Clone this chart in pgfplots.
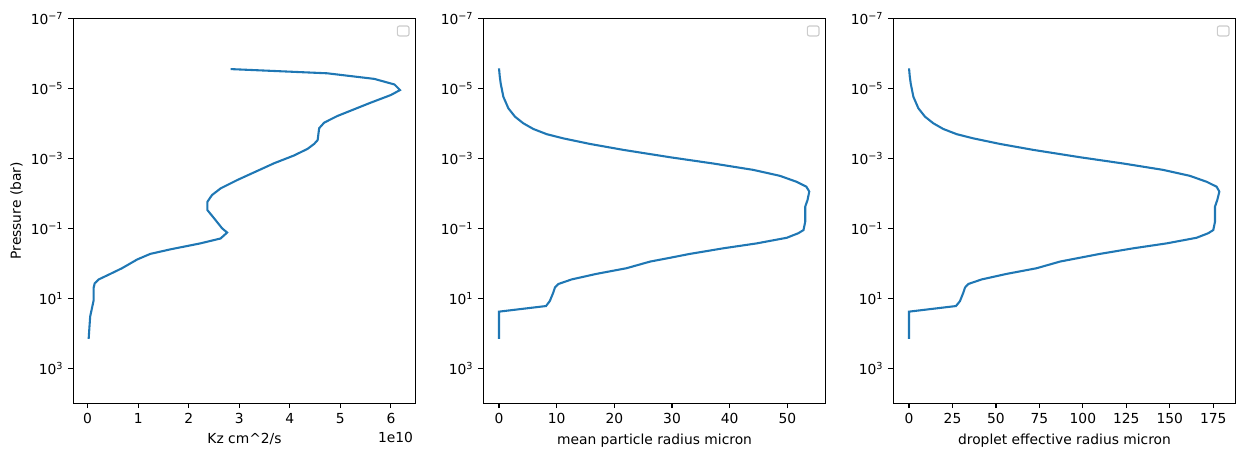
\documentclass[border=0pt]{standalone}
\usepackage{pgfplots}
\pgfplotsset{compat=1.18}
\usepackage{fontspec}
\setmainfont{DejaVu Sans}
\definecolor{mplblue}{HTML}{1F77B4}
\pgfplotsset{
  every axis/.append style={
    scale only axis, width=246.5bp, height=277.2bp,
    y dir=reverse,
    yminorticks=false,
    tick align=outside, major tick length=3.5bp,
    every tick/.style={black, line width=0.8bp},
    axis line style={line width=0.8bp},
    xtick pos=bottom, ytick pos=left,
    tick label style={font=\fontsize{10}{12}\selectfont, inner sep=0pt},
    label style={font=\fontsize{10}{12}\selectfont, inner sep=0pt},
    /pgf/number format/assume math mode=true,
    scaled x ticks=false,
    xticklabel style={yshift=-3.5bp},
    yticklabel style={xshift=-3.5bp},
    xlabel style={at={(axis description cs:0.5,0)}, anchor=north, yshift=-21.6bp},
    clip=false,
  },
}
\newcommand{\emptylegend}{%
  \draw[rounded corners=1.5bp, black!20, line width=0.8bp, fill=white]
    ([xshift=-13.2bp,yshift=-12.7bp]rel axis cs:1,1) rectangle ([xshift=-4.8bp,yshift=-5.5bp]rel axis cs:1,1);}
\begin{document}
\begin{tikzpicture}
\path[use as bounding box] (-52.8bp,-37.9bp) rectangle (843.6bp,290.4bp);
% Panel 1
\begin{axis}[ymode=log, ymin=1e-7, ymax=1e4,
  ytick={1e-7,1e-5,1e-3,1e-1,1e1,1e3},
  yticklabels={10\textsuperscript{−7},10\textsuperscript{−5},10\textsuperscript{−3},10\textsuperscript{−1},10\textsuperscript{1},10\textsuperscript{3}},
  at={(0bp,0bp)}, anchor=south west,
  xmin=-0.283, xmax=6.49, xtick={0,1,2,3,4,5,6},
  xlabel={Kz cm\textasciicircum 2/s}, ylabel={Pressure (bar)},
  ylabel style={at={(axis description cs:-0.1469,0.5)}, anchor=south}]
\addplot[mplblue, line width=1.5bp, no markers] coordinates {
(2.83,2.82e-6) (4.74,3.72e-6) (5.67,5.37e-6) (6.07,7.76e-6) (6.18,1.12e-5)
(6.00,1.55e-5) (5.60,2.57e-5) (4.94,6.17e-5) (4.68,9.55e-5) (4.58,1.38e-4)
(4.55,3.02e-4) (4.48,3.89e-4) (4.35,5.37e-4) (4.08,8.32e-4) (3.69,1.38e-3)
(2.96,4.17e-3) (2.63,7.24e-3) (2.46,1.12e-2) (2.37,1.74e-2) (2.37,3.02e-2)
(2.50,5.13e-2) (2.66,0.1) (2.76,0.132) (2.63,0.195) (2.23,0.269)
(1.64,0.398) (1.24,0.537) (0.98,0.776) (0.68,1.38) (0.45,2.0)
(0.22,2.88) (0.14,3.72) (0.12,4.90) (0.12,11.2) (0.05,33.1) (0.02,144.5)
};
\emptylegend
\node[anchor=north east, inner sep=0pt, font=\fontsize{10}{12}\selectfont] at ([xshift=-1.7bp,yshift=-20.7bp]rel axis cs:1,0) {1e10};
\end{axis}
% Panel 2
\begin{axis}[ymode=log, ymin=1e-7, ymax=1e4,
  ytick={1e-7,1e-5,1e-3,1e-1,1e1,1e3},
  yticklabels={10\textsuperscript{−7},10\textsuperscript{−5},10\textsuperscript{−3},10\textsuperscript{−1},10\textsuperscript{1},10\textsuperscript{3}},
  at={(295.2bp,0bp)}, anchor=south west,
  xmin=-2.72, xmax=56.65, xtick={0,10,20,30,40,50},
  xlabel={mean particle radius micron}]
\addplot[mplblue, line width=1.5bp, no markers] coordinates {
(0,2.69e-6) (0.12,4.47e-6) (0.29,7.24e-6) (0.75,1.74e-5) (1.62,3.72e-5)
(2.77,6.46e-5) (4.22,1.0e-4) (5.95,1.45e-4) (8.27,2.04e-4) (11.15,2.69e-4)
(15.8,3.89e-4) (21.6,5.75e-4) (29.7,9.33e-4) (37.2,1.41e-3) (44.1,2.14e-3)
(48.7,3.16e-3) (51.6,4.68e-3)
(53.3,6.46e-3) (53.8,8.91e-3) (53.5,1.55e-2) (53.1,2.40e-2) (53.1,6.46e-2)
(52.8,0.112) (51.9,0.138) (49.9,0.186) (44.7,0.269) (38.9,0.372)
(33.1,0.537) (29.7,0.692) (26.2,0.891) (22.1,1.38) (16.9,2.0)
(12.6,2.88) (10.3,3.89) (9.7,4.90) (9.4,6.92) (8.8,12.0) (8.15,16.6)
(0,24.0) (0,144.5)
};
\emptylegend
\end{axis}
% Panel 3
\begin{axis}[ymode=log, ymin=1e-7, ymax=1e4,
  ytick={1e-7,1e-5,1e-3,1e-1,1e1,1e3},
  yticklabels={10\textsuperscript{−7},10\textsuperscript{−5},10\textsuperscript{−3},10\textsuperscript{−1},10\textsuperscript{1},10\textsuperscript{3}},
  at={(590.4bp,0bp)}, anchor=south west,
  xmin=-9.03, xmax=187.9, xtick={0,25,50,75,100,125,150,175},
  xlabel={droplet effective radius micron}]
\addplot[mplblue, line width=1.5bp, no markers] coordinates {
(0,2.69e-6) (0.4,4.47e-6) (0.96,7.24e-6) (2.49,1.74e-5) (5.37,3.72e-5)
(9.19,6.46e-5) (14.0,1.0e-4) (19.7,1.45e-4) (27.4,2.04e-4) (37.0,2.69e-4)
(52.4,3.89e-4) (71.6,5.75e-4) (98.5,9.33e-4) (123.4,1.41e-3) (146.2,2.14e-3)
(161.5,3.16e-3) (171.2,4.68e-3)
(176.9,6.46e-3) (178.5,8.91e-3) (177.3,1.55e-2) (176.0,2.40e-2) (176.0,6.46e-2)
(175.0,0.112) (172.1,0.138) (165.4,0.186) (148.2,0.269) (129.0,0.372)
(109.8,0.537) (98.3,0.692) (86.8,0.891) (73.4,1.38) (56.2,2.0)
(41.8,2.88) (34.1,3.89) (32.2,4.90) (31.2,6.92) (29.3,12.0) (27.0,16.6)
(0,24.0) (0,144.5)
};
\emptylegend
\end{axis}
\end{tikzpicture}
\end{document}
